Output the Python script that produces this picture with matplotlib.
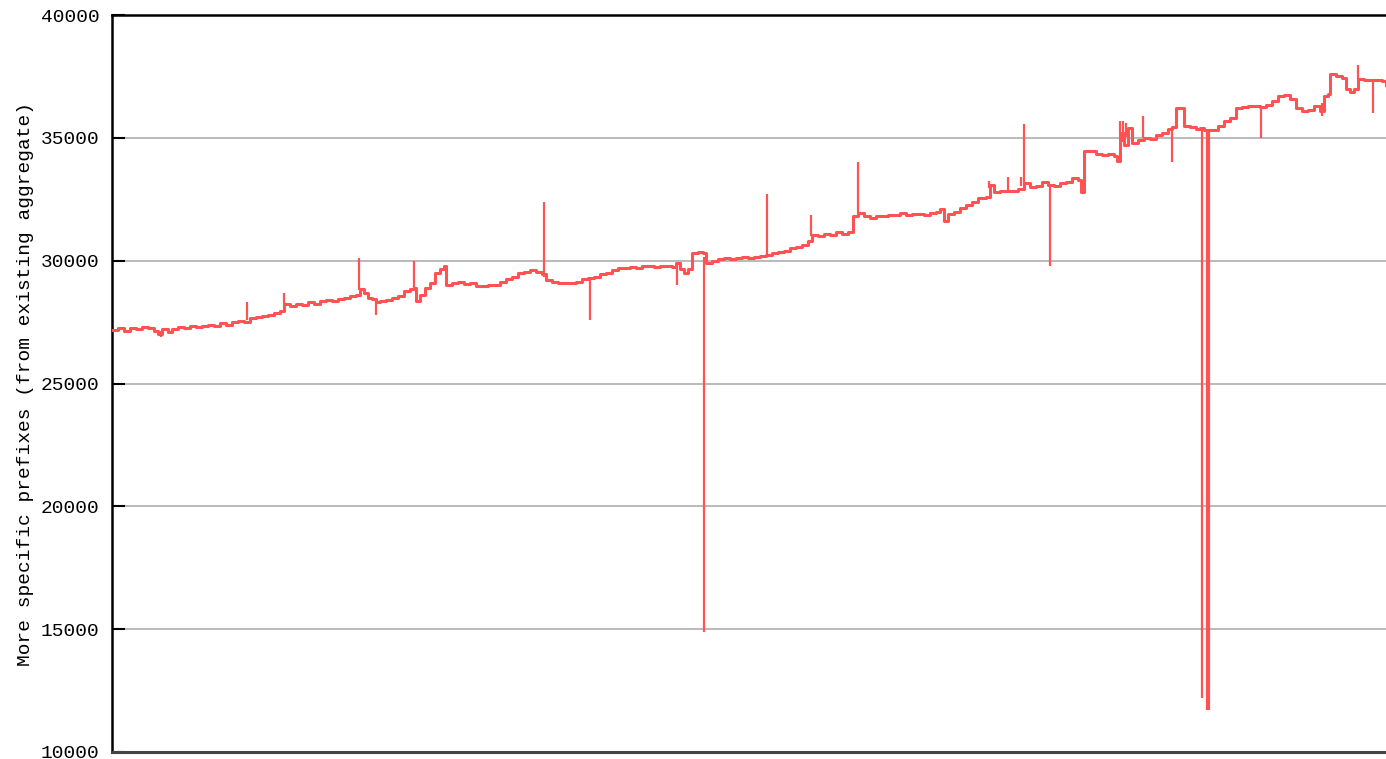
import numpy as np
import matplotlib
matplotlib.use("Agg")
import matplotlib.pyplot as plt

# day index vs number of more specific prefixes (traced baseline)
days = [0, 6, 12, 18, 24, 30, 36, 42, 46, 50, 56, 60, 66, 72, 78, 84, 90, 96, 102, 108,
        114, 120, 126, 132, 138, 144, 150, 156, 162, 168, 172, 178, 184, 190, 196, 202, 208,
        214, 220, 226, 232, 238, 244, 248, 252, 256, 260, 264, 268, 274, 280, 286, 292, 298,
        302, 304, 308, 313, 318, 323, 328, 332, 334, 340, 346, 352, 358, 364, 370, 376, 382,
        388, 394, 400, 406, 412, 418, 424, 430, 434, 440, 446, 452, 458, 464, 470, 476, 482,
        488, 494, 500, 506, 512, 518, 524, 530, 536, 542, 548, 554, 560, 564, 568, 572, 576,
        580, 586, 591, 594, 600, 606, 612, 618, 624, 630, 636, 642, 648, 654, 660, 666, 672,
        678, 684, 690, 696, 700, 706, 712, 718, 724, 730, 736, 741, 746, 752, 758, 764, 770,
        776, 782, 788, 794, 800, 806, 812, 818, 824, 828, 832, 836, 842, 848, 854, 860, 866,
        870, 874, 878, 882, 888, 894, 900, 906, 912, 918, 924, 930, 936, 942, 948, 954, 960,
        966, 969, 972, 978, 984, 990, 996, 1002, 1005, 1008, 1012, 1016, 1020, 1026, 1032,
        1038, 1044, 1050, 1056, 1060, 1064, 1068, 1072, 1078, 1084, 1088, 1092, 1100, 1106,
        1112, 1118, 1124, 1130, 1136, 1142, 1148, 1154, 1160, 1166, 1172, 1178, 1184, 1190,
        1196, 1202, 1208, 1212, 1216, 1218, 1224, 1230, 1234, 1238, 1242, 1246, 1252, 1258,
        1264, 1270, 1274]
prefixes = [27170, 27250, 27150, 27250, 27200, 27300, 27250, 27150, 27000, 27200, 27100,
            27200, 27300, 27250, 27350, 27300, 27350, 27400, 27350, 27450, 27400, 27500,
            27550, 27500, 27650, 27700, 27750, 27800, 27850, 27950, 28250, 28150, 28250,
            28200, 28300, 28250, 28350, 28400, 28350, 28450, 28500, 28550, 28600, 28850,
            28700, 28500, 28450, 28300, 28350, 28400, 28500, 28550, 28750, 28850, 28900,
            28350, 28600, 28900, 29100, 29500, 29650, 29800, 29000, 29100, 29150, 29050,
            29100, 28950, 28950, 29000, 29000, 29150, 29250, 29350, 29500, 29550, 29600,
            29550, 29450, 29200, 29150, 29100, 29100, 29100, 29150, 29250, 29300, 29350,
            29450, 29500, 29600, 29700, 29700, 29750, 29700, 29800, 29800, 29750, 29800,
            29800, 29750, 29900, 29650, 29500, 29650, 30300, 30350, 30300, 29900, 30000,
            30050, 30100, 30050, 30100, 30150, 30100, 30150, 30200, 30250, 30300, 30350,
            30400, 30500, 30550, 30650, 30800, 31050, 31000, 31100, 31050, 31150, 31100,
            31150, 31800, 31950, 31800, 31750, 31800, 31800, 31850, 31850, 31950, 31850,
            31900, 31900, 31850, 31950, 32000, 32100, 31600, 31900, 32000, 32150, 32250,
            32400, 32550, 32550, 32600, 33100, 32800, 32850, 32850, 32850, 32900, 33150,
            33000, 33050, 33200, 33100, 33050, 33150, 33200, 33350, 33300, 32800, 34450,
            34450, 34350, 34300, 34350, 34250, 34050, 35200, 34700, 35400, 34800, 34900,
            35000, 34950, 35100, 35200, 35350, 35450, 36200, 36200, 35500, 35450, 35350,
            35400, 35300, 35300, 35500, 35700, 35800, 36200, 36250, 36300, 36300, 36250,
            36350, 36500, 36700, 36750, 36600, 36200, 36100, 36150, 36300, 36100, 36700,
            36800, 37600, 37500, 37450, 37000, 36850, 37000, 37400, 37350, 37350, 37350,
            37300, 37150]

# single-sample outliers
spike_days = [49, 135, 172, 247, 264, 302, 432, 478, 565, 592, 655, 699, 746, 877, 896,
              909, 912, 938, 969, 1008, 1011, 1014, 1031, 1060, 1090, 1095, 1097, 1149,
              1210, 1246, 1261]
spike_vals = [26900, 28300, 28700, 30100, 27800, 30000, 32400, 27600, 29000, 14900, 32700,
              31850, 34000, 33250, 33400, 33400, 35550, 29800, 32750, 35700, 35700, 35600,
              35900, 34000, 12200, 11700, 11700, 35000, 35900, 37950, 36000]

color = '#ff5252'
mono = 'Liberation Mono'

fig = plt.figure(figsize=(13.86, 7.59), dpi=100)
ax = fig.add_axes([112 / 1386, 7 / 759, 1 - 112 / 1386, 737 / 759])

ax.plot(days, prefixes, color=color, lw=2.2, drawstyle='steps-post', zorder=3)
foot = np.interp(spike_days, days, prefixes)
ax.vlines(spike_days, foot, spike_vals, color=color, lw=1.6, zorder=3)

ax.set_xlim(0, 1274)
ax.set_ylim(10000, 40000)
ax.set_yticks(range(10000, 40001, 5000))
ax.set_xticks([])
ax.yaxis.grid(True, color='#b4b4b4', lw=1.3)
ax.set_axisbelow(True)
ax.tick_params(axis='y', direction='in', length=9, width=1.5, color='black', pad=9,
               labelsize=14)
for lab in ax.get_yticklabels():
    lab.set_fontfamily(mono)

ax.spines['right'].set_visible(False)
ax.spines['left'].set_linewidth(1.8)
ax.spines['top'].set_linewidth(1.8)
ax.spines['bottom'].set_linewidth(2.2)
ax.spines['bottom'].set_color('#444444')

ax.set_ylabel('More specific prefixes (from existing aggregate)', fontfamily=mono,
              fontsize=14, labelpad=5)

fig.savefig('out.png', dpi=100)
